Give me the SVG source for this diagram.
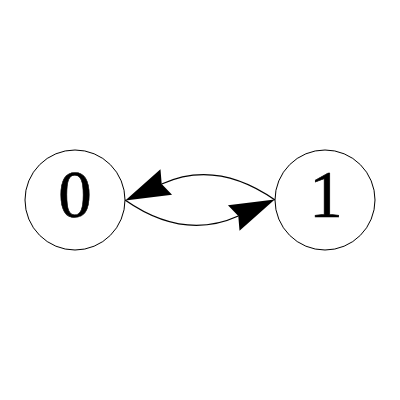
<svg xmlns="http://www.w3.org/2000/svg" width="400" height="400" viewBox="0 0 400 400">
<style>
.node circle{fill:#fff;stroke:#000;stroke-width:1}
.node text{font-family:"Liberation Serif","Times New Roman",serif;font-size:67px;text-anchor:middle;fill:#000;stroke:#000;stroke-width:0.6}
.edge{fill:none;stroke:#000;stroke-width:1.3}
</style>
<defs>
<marker id="arr" markerUnits="userSpaceOnUse" markerWidth="50" markerHeight="32" viewBox="-1 -16 50 32" refX="5" refY="0" orient="auto" overflow="visible">
<path d="M45,0 L0,-14 L5,0 L0,14 Z" fill="#000"/>
</marker>
</defs>
<rect width="400" height="400" fill="#fff"/>
<g id="connectors">
<path class="edge" d="M275,200 C242,177 202.5,165.5 161.7,184" marker-end="url(#arr)"/>
<path class="edge" d="M125,200 C158,223 197.5,234.5 238.3,216" marker-end="url(#arr)"/>
</g>
<g id="node0" class="node">
<circle cx="75" cy="200" r="50"/>
<text x="75" y="216.5">0</text>
</g>
<g id="node1" class="node">
<circle cx="325" cy="200" r="50"/>
<text x="326" y="216.5">1</text>
</g>
</svg>
